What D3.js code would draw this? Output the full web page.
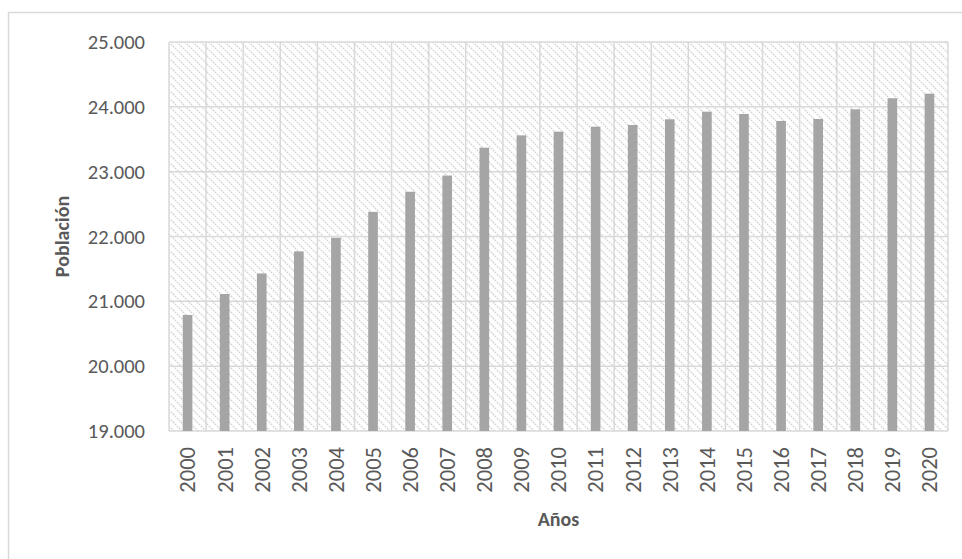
<!DOCTYPE html>
<html>
<head>
<meta charset="utf-8">
<script src="https://cdn.jsdelivr.net/npm/d3@7.9.0/dist/d3.min.js"></script>
<style>
  html, body { margin: 0; padding: 0; background: #fff; }
  svg text { font-family: Calibri, Carlito, Lato, sans-serif; fill: #595959; }
</style>
</head>
<body>
<svg id="chart" width="962" height="559"></svg>
<script>
const years = ['2000', '2001', '2002', '2003', '2004', '2005', '2006', '2007', '2008', '2009',
  '2010', '2011', '2012', '2013', '2014', '2015', '2016', '2017', '2018', '2019', '2020'];
const poblacion = [20790, 21113, 21430, 21770, 21980, 22380, 22690, 22940, 23370, 23560,
  23617, 23694, 23720, 23808, 23925, 23890, 23782, 23813, 23962, 24132, 24203];
const yTicks = [19000, 20000, 21000, 22000, 23000, 24000, 25000];

const svg = d3.select('#chart');
const margin = { top: 42, right: 14, bottom: 128, left: 169 };
const width = 962 - margin.left - margin.right;
const height = 559 - margin.top - margin.bottom;
const grid = '#d9d9d9';

const fmt = d => d3.format(',')(d).replace(/,/g, '.');

// chart area border
svg.append('rect')
  .attr('x', 8.5).attr('y', 12.5)
  .attr('width', 970).attr('height', 560)
  .attr('fill', 'none').attr('stroke', grid).attr('stroke-width', 1.5);

// hatch pattern for plot area
const pat = svg.append('defs').append('pattern')
  .attr('id', 'hatch')
  .attr('patternUnits', 'userSpaceOnUse')
  .attr('width', 8).attr('height', 8);
pat.append('path')
  .attr('d', 'M-2,-2 L10,10 M-2,6 L2,10 M6,-2 L10,2')
  .attr('stroke', '#d4d4d4')
  .attr('stroke-width', 1.6)
  .attr('stroke-dasharray', '1.6 1.2');

const g = svg.append('g').attr('transform', `translate(${margin.left},${margin.top})`);

const x = d3.scaleBand().domain(years).range([0, width]).paddingInner(0.74).paddingOuter(0.37);
const xGrid = d3.scaleBand().domain(years).range([0, width]);
const y = d3.scaleLinear().domain([19000, 25000]).range([height, 0]);

g.append('rect')
  .attr('width', width).attr('height', height)
  .attr('fill', 'url(#hatch)');

// horizontal gridlines
g.append('g')
  .selectAll('line')
  .data(yTicks)
  .join('line')
  .attr('x1', 0).attr('x2', width)
  .attr('y1', d => y(d)).attr('y2', d => y(d))
  .attr('stroke', grid).attr('stroke-width', 1.5);

// vertical gridlines between categories
g.append('g')
  .selectAll('line')
  .data(years.concat(['end']))
  .join('line')
  .attr('x1', (d, i) => i * xGrid.step()).attr('x2', (d, i) => i * xGrid.step())
  .attr('y1', 0).attr('y2', height)
  .attr('stroke', grid).attr('stroke-width', 1.5);

// bars
g.append('g')
  .selectAll('rect')
  .data(poblacion)
  .join('rect')
  .attr('x', (d, i) => x(years[i]))
  .attr('width', x.bandwidth())
  .attr('y', d => y(d))
  .attr('height', d => height - y(d))
  .attr('fill', '#a5a5a5');

// y axis labels
const yAxis = g.append('g')
  .call(d3.axisLeft(y).tickValues(yTicks).tickFormat(fmt).tickSize(0).tickPadding(24));
yAxis.select('.domain').remove();
yAxis.attr('font-family', null);
yAxis.selectAll('text').attr('font-size', 20.5).attr('fill', null);

// x axis labels
const xAxis = g.append('g')
  .attr('transform', `translate(0,${height})`)
  .call(d3.axisBottom(xGrid).tickSize(0).tickPadding(0));
xAxis.select('.domain').remove();
xAxis.attr('font-family', null);
xAxis.selectAll('text')
  .attr('font-size', 22.5)
  .attr('fill', null)
  .attr('text-anchor', 'end')
  .attr('dy', '0.35em')
  .attr('transform', 'translate(0,16) rotate(-90)')
  .attr('x', 0).attr('y', 0);

// axis titles
svg.append('text')
  .attr('transform', `translate(62,${margin.top + height / 2}) rotate(-90)`)
  .attr('text-anchor', 'middle')
  .attr('dy', '0.35em')
  .attr('font-size', 20)
  .attr('font-weight', 'bold')
  .text('Población');

svg.append('text')
  .attr('x', margin.left + width / 2)
  .attr('y', 519)
  .attr('text-anchor', 'middle')
  .attr('dy', '0.35em')
  .attr('font-size', 20)
  .attr('font-weight', 'bold')
  .text('Años');
</script>
</body>
</html>
